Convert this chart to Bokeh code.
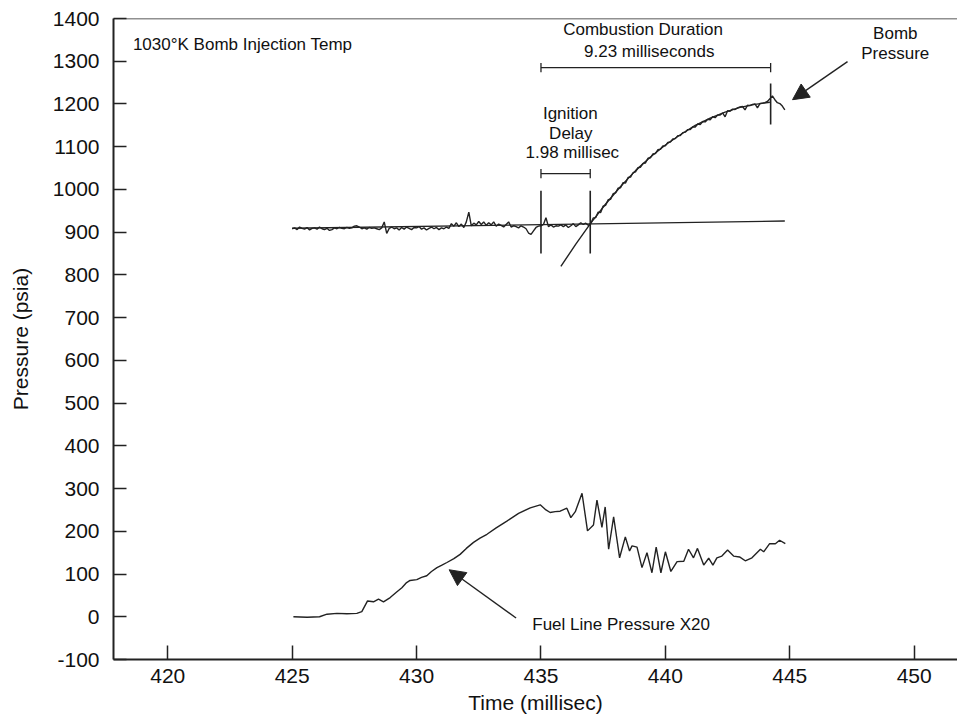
from bokeh.plotting import figure
from bokeh.models import Range1d, FixedTicker, Label, Arrow, NormalHead, Span, PrintfTickFormatter
from bokeh.embed import file_html
from bokeh.resources import INLINE

# ---------------- data ----------------
# Bomb pressure trace (psia), sampled every 0.1 ms from 425.0 ms
bomb_t0 = 425.0
bomb_dt = 0.1
bomb_p = [
    908, 910, 906, 912, 909, 907, 911, 905, 909, 910,
    907, 912, 908, 906, 909, 904, 906, 910, 908, 911,
    909, 908, 911, 909, 910, 914, 915, 912, 908, 910,
    907, 911, 909, 910, 908, 906, 910, 924, 897, 909,
    912, 908, 910, 905, 911, 907, 912, 909, 906, 911,
    910, 913, 907, 910, 905, 909, 912, 908, 911, 906,
    910, 908, 912, 909, 920, 914, 922, 913, 919, 911,
    924, 947, 915, 921, 917, 925, 918, 924, 916, 922,
    917, 924, 914, 919, 916, 912, 918, 924, 912, 915,
    913, 910, 915, 912, 908, 898, 895, 903, 911, 914,
    915, 918, 934, 913, 917, 912, 915, 914, 917, 913,
    917, 911, 915, 920, 913, 917, 922, 918, 921, 916,
    920, 933, 934, 947, 946, 961, 963, 976, 977, 990,
    992, 1003, 1004, 1016, 1015, 1028, 1029, 1039, 1041, 1051,
    1052, 1061, 1062, 1073, 1074, 1083, 1084, 1093, 1094, 1102,
    1102, 1110, 1111, 1118, 1119, 1126, 1126, 1133, 1134, 1140,
    1140, 1146, 1146, 1153, 1152, 1159, 1158, 1164, 1163, 1170,
    1168, 1174, 1174, 1179, 1170, 1184, 1183, 1188, 1187, 1191,
    1193, 1194, 1186, 1197, 1196, 1199, 1200, 1191, 1201, 1202,
    1203, 1206, 1212, 1219, 1210, 1203, 1201, 1195, 1186,
]
bomb_t = [round(bomb_t0 + i * bomb_dt, 2) for i in range(len(bomb_p))]

# Smooth combustion fit curve
fit_t = [435.8, 436.4, 437.0, 437.6, 438.2, 438.8, 439.4, 440.0, 440.6, 441.2,
         441.8, 442.4, 443.0, 443.6, 444.2]
fit_p = [820, 872, 921, 966, 1007, 1044, 1076, 1104, 1128, 1150,
         1167, 1181, 1192, 1199, 1204]

# Pre-ignition baseline fit
base_t = [425.0, 444.8]
base_p = [909, 926]

# Fuel line pressure x20 (psia)
fuel_t = [425.05, 425.6, 426.1, 426.4, 426.8, 427.2, 427.6, 427.8, 428.03, 428.27,
          428.47, 428.67, 428.94, 429.2, 429.41, 429.6, 429.74, 430.01, 430.2, 430.41,
          430.6, 430.82, 431.0, 431.22, 431.5, 431.75, 432.0, 432.29, 432.55, 432.83,
          433.2, 433.63, 434.1, 434.57, 434.97, 435.2, 435.37, 435.57, 435.77, 436.04,
          436.2, 436.38, 436.65, 436.87, 437.11, 437.25, 437.45, 437.58, 437.72, 437.92,
          438.16, 438.39, 438.56, 438.66, 438.86, 439.06, 439.26, 439.46, 439.63, 439.82,
          440.0, 440.22, 440.47, 440.74, 440.93, 441.13, 441.29, 441.54, 441.74, 441.91,
          442.07, 442.27, 442.5, 442.74, 442.98, 443.21, 443.48, 443.82, 443.95, 444.19,
          444.42, 444.59, 444.82]
fuel_p = [0, -1, 0, 6, 8, 7, 8, 12, 37, 35,
          41, 35, 45, 58, 68, 80, 85, 87, 92, 96,
          106, 115, 120, 127, 136, 146, 160, 174, 184, 193,
          208, 224, 242, 255, 262, 250, 244, 246, 247, 254,
          232, 246, 289, 201, 215, 273, 209, 257, 158, 234,
          138, 187, 154, 166, 163, 115, 150, 103, 163, 103,
          152, 106, 129, 130, 158, 138, 160, 121, 137, 121,
          138, 142, 156, 142, 140, 131, 138, 158, 152, 171,
          171, 179, 171]

# Event markers (ms): injection start, ignition, end of combustion
ignition_start = 435.0
ignition_delay = 1.98
combustion_duration = 9.23
marker_t = [ignition_start, ignition_start + ignition_delay, ignition_start + combustion_duration]
marker_p0 = [850, 850, 1152]
marker_p1 = [997, 997, 1248]
bar_t0 = [ignition_start, ignition_start]
bar_t1 = [ignition_start + combustion_duration, ignition_start + ignition_delay]
bar_p = [1285, 1037]
cap_half = 11

x_ticks = [420, 425, 430, 435, 440, 445, 450]
y_ticks = [-100, 0, 100, 200, 300, 400, 500, 600, 700, 800, 900, 1000, 1100, 1200, 1300, 1400]

# ---------------- figure ----------------
INK = "#222222"
FONT = "Liberation Sans"

p = figure(width=957, height=723, output_backend="svg", toolbar_location=None,
           x_range=Range1d(417.82, 451.74), y_range=Range1d(-100, 1400),
           min_border_left=113, min_border_right=0, min_border_top=18, min_border_bottom=64,
           x_axis_label="Time (millisec)", y_axis_label="Pressure (psia)")
p.outline_line_color = None
p.xgrid.visible = False
p.ygrid.visible = False
p.background_fill_color = "white"
p.border_fill_color = "white"

for ax, ticks, tin in ((p.xaxis, x_ticks, 14), (p.yaxis, y_ticks, 13)):
    ax.ticker = FixedTicker(ticks=ticks)
    ax.formatter = PrintfTickFormatter(format="%d")
    ax.major_tick_in = tin
    ax.major_tick_out = 0
    ax.minor_tick_line_color = None
    ax.axis_line_color = INK
    ax.axis_line_width = 2
    ax.major_tick_line_color = INK
    ax.major_tick_line_width = 1.5
    ax.major_label_text_font = FONT
    ax.major_label_text_font_size = "21px"
    ax.major_label_text_color = "#111111"
    ax.axis_label_text_font = FONT
    ax.axis_label_text_font_size = "21px"
    ax.axis_label_text_font_style = "normal"
    ax.axis_label_text_color = "#111111"
p.xaxis.major_label_standoff = 9
p.xaxis.axis_label_standoff = 5
p.yaxis.major_label_standoff = 14
p.yaxis.axis_label_standoff = 18

p.add_layout(Span(location=1400, dimension="width", line_color=INK, line_width=1.5))

# traces
p.line(base_t, base_p, line_color=INK, line_width=1.4)
p.line(fit_t, fit_p, line_color=INK, line_width=1.4)
p.line(bomb_t, bomb_p, line_color=INK, line_width=1.4)
p.line(fuel_t, fuel_p, line_color=INK, line_width=1.4)

# event markers and dimension bars
p.segment(x0=marker_t, y0=marker_p0, x1=marker_t, y1=marker_p1, line_color=INK, line_width=1.6)
p.segment(x0=bar_t0, y0=bar_p, x1=bar_t1, y1=bar_p, line_color=INK, line_width=1.3)
p.segment(x0=bar_t0, y0=[b - cap_half for b in bar_p], x1=bar_t0, y1=[b + cap_half for b in bar_p],
          line_color=INK, line_width=1.3)
p.segment(x0=bar_t1, y0=[b - cap_half for b in bar_p], x1=bar_t1, y1=[b + cap_half for b in bar_p],
          line_color=INK, line_width=1.3)

def lab(x, y, text, size="17px", align="center"):
    p.add_layout(Label(x=x, y=y, text=text, text_font=FONT, text_font_size=size,
                       text_color="#111111", text_align=align, text_baseline="middle"))

lab(418.6, 1339, "1030°K Bomb Injection Temp", align="left")
lab(439.1, 1374, "Combustion Duration")
lab(439.35, 1323, "9.23 milliseconds")
lab(436.18, 1178, "Ignition")
lab(436.2, 1131, "Delay")
lab(436.26, 1086, "1.98 millisec")
lab(449.24, 1365, "Bomb")
lab(449.24, 1318, "Pressure")
lab(434.65, -19, "Fuel Line Pressure X20", align="left")

# arrows
p.add_layout(Arrow(end=NormalHead(size=16, fill_color=INK, line_color=INK),
                   x_start=447.32, y_start=1299, x_end=445.11, y_end=1210,
                   line_color=INK, line_width=1.4))
p.add_layout(Arrow(end=NormalHead(size=16, fill_color=INK, line_color=INK),
                   x_start=434.0, y_start=-3, x_end=431.31, y_end=110,
                   line_color=INK, line_width=1.4))

open("out.html", "w").write(file_html(p, INLINE))
